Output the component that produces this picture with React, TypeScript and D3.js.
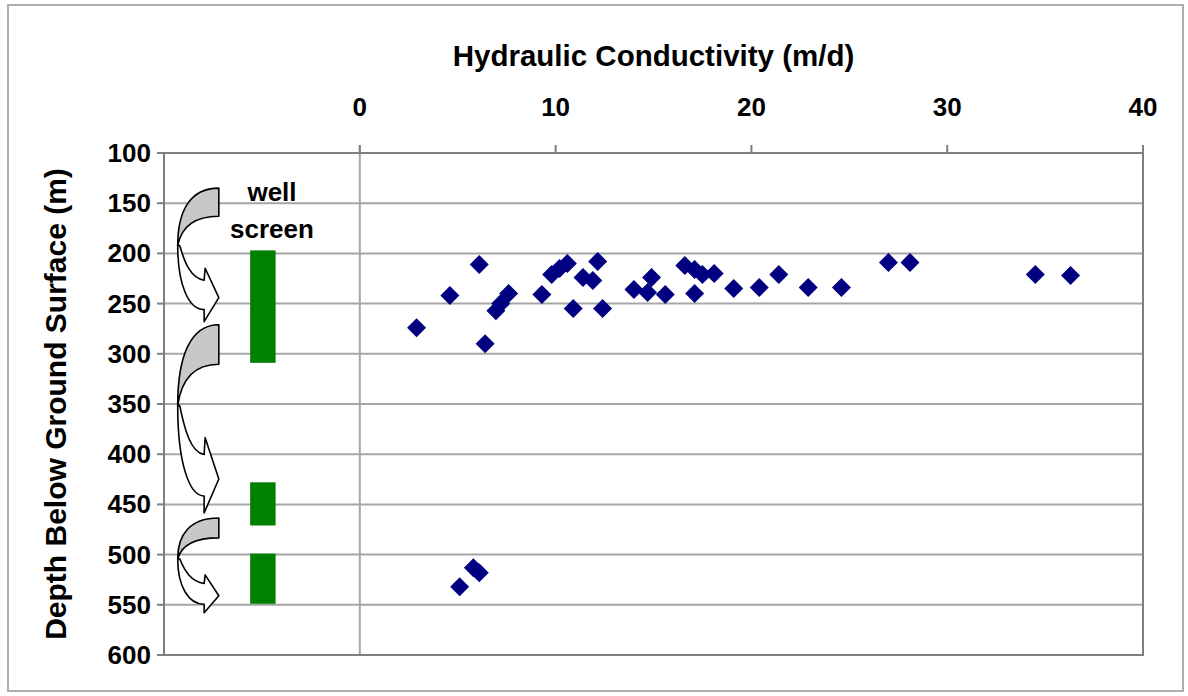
import React from "react";
import * as d3 from "d3";

// Measured hydraulic conductivity (m/d) and sample depth (m below ground surface)
const conductivity = [
  2.9, 4.6, 6.1, 6.4, 6.95, 7.2, 7.6, 9.3, 9.8, 10.2, 10.6, 10.9, 11.4, 11.9,
  12.15, 12.4, 14.0, 14.9, 14.7, 15.6, 16.6, 17.1, 17.5, 18.1, 17.1, 19.1,
  20.4, 21.4, 22.9, 24.6, 27.0, 28.1, 34.5, 36.3, 5.8, 6.1, 5.1,
];
const depth = [
  274, 242, 211, 290, 257, 250, 240, 241, 221, 215, 210, 255, 224, 227,
  208, 255, 236, 224, 239, 241, 212, 216, 221, 220, 240, 235,
  234, 221, 234, 234, 209, 209, 221, 222, 513, 518, 532,
];

// Well screen intervals (m)
const screenTop = [197, 428, 499];
const screenBottom = [309, 471, 549];

// Curved arrows linking screen intervals (depth span, m)
const arrowTop = [135, 271, 463.5];
const arrowBottom = [268, 458.5, 558];

const xTicks = [0, 10, 20, 30, 40];
const yTicks = [100, 150, 200, 250, 300, 350, 400, 450, 500, 550, 600];

const W = 1188;
const H = 696;
const FONT = "'Liberation Sans', Arial, sans-serif";

const x = d3.scaleLinear().domain([-10, 40]).range([164, 1143]);
const y = d3.scaleLinear().domain([100, 600]).range([153, 655]);

function arrowPaths(t: number, b: number) {
  const T = y(t);
  const h = y(b) - T;
  const xr = x(-7.2);
  const xl = x(-9.3);
  const xb = x(-7.95);
  const yGray = T + 0.21 * h;
  const yMid = T + 0.43 * h;
  const yBarbU = T + 0.6 * h;
  const yInner = T + 0.69 * h;
  const yTip = T + 0.82 * h;
  const yOuter = T + 0.91 * h;
  const yBarbL = T + h;

  const back = d3.path();
  back.moveTo(xr, T);
  back.bezierCurveTo(xl + (xr - xl) * 0.3, T, xl, T + (yMid - T) * 0.4, xl, yMid);
  back.bezierCurveTo(
    xl + 4, yGray + (yMid - yGray) * 0.3,
    xl + (xr - xl) * 0.45, yGray,
    xr, yGray
  );
  back.closePath();

  const front = d3.path();
  front.moveTo(xl, yMid);
  front.bezierCurveTo(xl, yMid + (yOuter - yMid) * 0.6, xl + (xb - xl) * 0.4, yOuter, xb, yOuter);
  front.lineTo(xb, yBarbL);
  front.lineTo(xr, yTip);
  front.lineTo(xb + 1, yBarbU);
  front.lineTo(xb, yInner);
  front.bezierCurveTo(
    xl + (xb - xl) * 0.5, yInner - 2,
    xl + 7, yMid + (yInner - yMid) * 0.5,
    xl + 2, yMid
  );
  front.closePath();
  return { back: back.toString(), front: front.toString() };
}

function diamond(cx: number, cy: number, r: number) {
  return `M${cx},${cy - r}L${cx + r},${cy}L${cx},${cy + r}L${cx - r},${cy}Z`;
}

export default function App() {
  const [x0, x1] = x.range();
  const [y0, y1] = y.range();
  const gridColor = "#a6a6a6";
  return (
    <svg
      width={W}
      height={H}
      style={{ position: "absolute", left: 0, top: 0, display: "block", background: "#fff" }}
    >
      <rect x={0} y={0} width={W} height={H} fill="#fff" />
      <rect x={8} y={5} width={1175} height={686} fill="none" stroke="#b0b0b0" strokeWidth={2} />

      {/* horizontal gridlines */}
      {yTicks.slice(1, -1).map((v) => (
        <line key={v} x1={x0} x2={x1} y1={y(v)} y2={y(v)} stroke={gridColor} strokeWidth={2} />
      ))}
      {/* value axis crossing at zero */}
      <line x1={x(0)} x2={x(0)} y1={y0 - 8} y2={y1} stroke={gridColor} strokeWidth={2} />

      {/* plot frame */}
      <rect x={x0} y={y0} width={x1 - x0} height={y1 - y0} fill="none" stroke="#7f7f7f" strokeWidth={2} />

      {/* y ticks */}
      {yTicks.map((v) => (
        <g key={v}>
          <line x1={x0 - 7} x2={x0} y1={y(v)} y2={y(v)} stroke="#7f7f7f" strokeWidth={2} />
          <text
            x={151}
            y={y(v)}
            textAnchor="end"
            dominantBaseline="central"
            fontFamily={FONT}
            fontWeight="bold"
            fontSize={26}
            fill="#000"
          >
            {v}
          </text>
        </g>
      ))}

      {/* x ticks on top */}
      {xTicks.map((v) => (
        <g key={v}>
          <line x1={x(v)} x2={x(v)} y1={y0 - 8} y2={y0} stroke="#7f7f7f" strokeWidth={2} />
          <text
            x={x(v)}
            y={107}
            textAnchor="middle"
            dominantBaseline="central"
            fontFamily={FONT}
            fontWeight="bold"
            fontSize={26}
            fill="#000"
          >
            {v}
          </text>
        </g>
      ))}

      {/* axis titles */}
      <text
        x={(x0 + x1) / 2}
        y={55}
        textAnchor="middle"
        dominantBaseline="central"
        fontFamily={FONT}
        fontWeight="bold"
        fontSize={29.5}
        fill="#000"
      >
        Hydraulic Conductivity (m/d)
      </text>
      <text
        transform={`translate(55,${(y0 + y1) / 2}) rotate(-90)`}
        textAnchor="middle"
        dominantBaseline="central"
        fontFamily={FONT}
        fontWeight="bold"
        fontSize={30}
        fill="#000"
      >
        Depth Below Ground Surface (m)
      </text>

      {/* curved arrows */}
      {arrowTop.map((t, i) => {
        const p = arrowPaths(t, arrowBottom[i]);
        return (
          <g key={i} stroke="#000" strokeWidth={1.6} strokeLinejoin="round">
            <path d={p.front} fill="#fff" />
            <path d={p.back} fill="#c8c8c8" />
          </g>
        );
      })}

      {/* well screen intervals */}
      <text x={272} y={192} textAnchor="middle" dominantBaseline="central" fontFamily={FONT} fontWeight="bold" fontSize={26} fill="#000">
        well
      </text>
      <text x={272} y={229} textAnchor="middle" dominantBaseline="central" fontFamily={FONT} fontWeight="bold" fontSize={26} fill="#000">
        screen
      </text>
      {screenTop.map((t, i) => (
        <rect
          key={i}
          x={x(-5.6)}
          y={y(t)}
          width={x(-4.3) - x(-5.6)}
          height={y(screenBottom[i]) - y(t)}
          fill="#008000"
        />
      ))}

      {/* data points */}
      {conductivity.map((k, i) => (
        <path key={i} d={diamond(x(k), y(depth[i]), 9.5)} fill="#000080" />
      ))}
    </svg>
  );
}
